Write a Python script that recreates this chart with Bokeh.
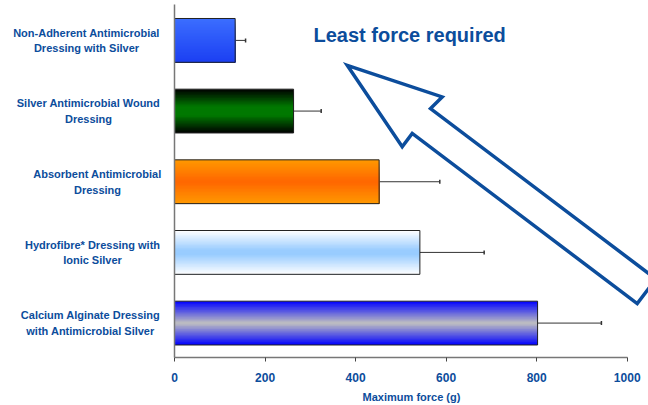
from bokeh.plotting import figure
from bokeh.layouts import row
from bokeh.models import Range1d, FixedTicker, Whisker, TeeHead, ColumnDataSource, PolyAnnotation, Label
from bokeh.core.properties import value
from bokeh.embed import file_html
from bokeh.resources import INLINE

# ---- data (top to bottom as shown) ----
categories = [
    "Non-Adherent Antimicrobial\nDressing with Silver",
    "Silver Antimicrobial Wound\nDressing",
    "Absorbent Antimicrobial\nDressing",
    "Hydrofibre* Dressing with\nIonic Silver",
    "Calcium Alginate Dressing\nwith Antimicrobial Silver",
]
max_force = [134, 263, 452, 542, 802]
error = [23, 61, 134, 142, 141]
x_ticks = [0, 200, 400, 600, 800, 1000]
title_text = "Least force required"
x_label = "Maximum force (g)"

# gradient stops per bar (top -> bottom)
gradients = [
    [(0, "#3c6eff"), (1, "#1b3ff2")],
    [(0, "#000000"), (0.4, "#007800"), (0.6, "#007800"), (1, "#000000")],
    [(0, "#ff9900"), (0.5, "#ff6600"), (1, "#ff9900")],
    [(0, "#ffffff"), (0.45, "#99ccff"), (0.55, "#99ccff"), (1, "#ffffff")],
    [(0, "#0000ff"), (0.5, "#c0c0c0"), (1, "#0000ff")],
]
# horizontal centre (px) of each category label block in the label strip
label_x = [86, 88, 97, 92, 90]

BLUE = "#0c4d9c"
FONT = "Liberation Sans"
LEFT_W = 164
GAP = 10

n = len(categories)
pos = [n - 1 - i for i in range(n)]  # top bar gets highest position
yr = Range1d(-0.487, 4.508)

# ---- main plot ----
p = figure(width=648 - LEFT_W, height=405, output_backend="svg", toolbar_location=None,
           x_range=Range1d(0, 1047), y_range=yr,
           min_border_left=GAP, min_border_right=0, min_border_top=4, min_border_bottom=47)
p.outline_line_color = None
p.xgrid.visible = False
p.ygrid.visible = False
p.background_fill_color = "white"


def hex2rgb(h):
    h = h.lstrip("#")
    return tuple(int(h[i:i + 2], 16) for i in (0, 2, 4))


def grad_color(stops, t):
    for (t0, c0), (t1, c1) in zip(stops[:-1], stops[1:]):
        if t0 <= t <= t1:
            f = 0 if t1 == t0 else (t - t0) / (t1 - t0)
            a, b = hex2rgb(c0), hex2rgb(c1)
            return "#%02x%02x%02x" % tuple(round(a[k] + (b[k] - a[k]) * f) for k in range(3))
    return stops[-1][1]


bar_h = 0.62
N = 30
tops, bottoms, rights, cols = [], [], [], []
for i in range(n):
    for k in range(N):
        t = (k + 0.5) / N
        tops.append(pos[i] + bar_h / 2 - k * bar_h / N)
        bottoms.append(pos[i] - bar_h / 2)
        rights.append(max_force[i])
        cols.append(grad_color(gradients[i], t))

p.quad(left=0, right=rights, top=tops, bottom=bottoms, fill_color=cols, line_color=None)
p.hbar(y=pos, left=0, right=max_force, height=bar_h, fill_color=None, line_color="#222222", line_width=1)

src = ColumnDataSource(dict(y=pos, lo=max_force, up=[v + e for v, e in zip(max_force, error)]))
wh = Whisker(source=src, base="y", lower="lo", upper="up", dimension="width",
             line_color="#333333", line_width=1,
             lower_head=None, upper_head=TeeHead(size=4, line_color="#333333", line_width=1.5))
p.add_layout(wh)

# arrow annotation
arrow_x = [381.5, 591.3, 565.5, 1063.4, 1022.1, 525.1, 503.0]
arrow_y = [3.647, 3.200, 3.036, 0.624, 0.275, 2.684, 2.494]
p.add_layout(PolyAnnotation(xs=arrow_x, ys=arrow_y, fill_alpha=0, line_color=BLUE, line_alpha=1.0,
                            line_width=3.5, line_join="miter"))

p.add_layout(Label(x=307, y=4.07, text=title_text, text_baseline="middle", text_align="left",
                   text_font=FONT, text_font_style="bold", text_font_size="20px", text_color=BLUE))

# x axis
xa = p.xaxis[0]
xa.ticker = FixedTicker(ticks=x_ticks)
xa.bounds = (0, 1000)
xa.axis_line_color = "#777777"
xa.axis_line_width = 1.5
xa.major_tick_line_color = "#444444"
xa.major_tick_out = 4
xa.major_tick_in = 0
xa.minor_tick_line_color = None
xa.major_label_text_font = FONT
xa.major_label_text_font_style = "bold"
xa.major_label_text_font_size = "12px"
xa.major_label_text_color = BLUE
xa.major_label_standoff = 11
xa.axis_label = x_label
xa.axis_label_text_font = FONT
xa.axis_label_text_font_style = "bold"
xa.axis_label_text_font_size = "11px"
xa.axis_label_text_color = BLUE
xa.axis_label_standoff = 6

# y axis: line only (labels live in the strip at left)
ya = p.yaxis[0]
ya.ticker = FixedTicker(ticks=[])
ya.axis_line_color = "#777777"
ya.axis_line_width = 1.5
ya.major_tick_line_color = None
ya.minor_tick_line_color = None
ya.major_tick_out = 0
ya.major_tick_in = 0

# ---- category label strip ----
pl = figure(width=LEFT_W, height=405, output_backend="svg", toolbar_location=None,
            x_range=Range1d(0, LEFT_W), y_range=yr, x_axis_location=None, y_axis_location=None,
            min_border_left=0, min_border_right=0, min_border_top=4, min_border_bottom=47)
pl.outline_line_color = None
pl.xgrid.visible = False
pl.ygrid.visible = False
pl.text(x=label_x, y=pos, text=categories, text_align="center", text_baseline="middle",
        text_line_height=1.3, text_font=value(FONT), text_font_style="bold",
        text_font_size="11px", text_color=BLUE)

layout = row(pl, p, spacing=0)
open("out.html", "w").write(file_html(layout, INLINE))
